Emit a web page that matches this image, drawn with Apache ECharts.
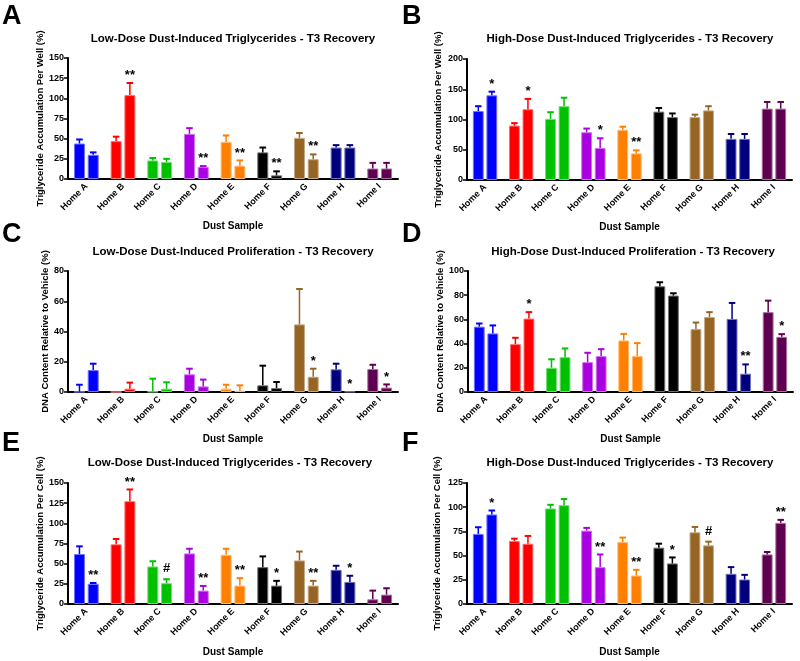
<!DOCTYPE html>
<html><head><meta charset="utf-8">
<script src="https://cdn.jsdelivr.net/npm/echarts@6/dist/echarts.min.js"></script>
<style>html,body{margin:0;padding:0;background:#fff}#c{width:800px;height:661px}</style>
</head><body><div id="c"></div>
<script>
const categories = ['Home A','Home B','Home C','Home D','Home E','Home F','Home G','Home H','Home I'];

// Panel A: Low-dose triglycerides per well
const aMean1 = [44, 47, 23, 56, 46, 33, 51, 39, 13];
const aErr1  = [5, 5.5, 3, 7, 8, 6, 6, 3, 7];
const aMean2 = [30, 104, 21, 15, 16.5, 4.5, 24.5, 39, 13];
const aErr2  = [3, 15, 4, 1, 6.5, 5, 6, 3, 7];
const aSig   = ['', '**', '', '**', '**', '**', '**', '', ''];
const aTicks = [0, 25, 50, 75, 100, 125, 150];

// Panel B: High-dose triglycerides per well
const bMean1 = [114, 90, 101, 79, 83, 113, 104, 68, 118];
const bErr1  = [8, 4, 11, 6, 5, 6, 4, 8, 11];
const bMean2 = [140, 117, 122, 53, 44, 104, 115, 68, 118];
const bErr2  = [6, 17, 14, 16, 5, 6, 7, 8, 11];
const bSig   = ['*', '*', '', '*', '**', '', '', '', ''];
const bTicks = [0, 50, 100, 150, 200];

// Panel C: Low-dose proliferation
const cMean1 = [0.2, 0, 0.3, 11.7, 2.2, 4.4, 44.7, 15, 15.2];
const cErr1  = [4.6, 0, 8.5, 3.7, 2.6, 13, 23.4, 3.7, 2.8];
const cMean2 = [14.5, 2.2, 2.2, 3.7, 0.9, 2.6, 10.1, 0.3, 2.9];
const cErr2  = [4.2, 4, 4.2, 4.5, 3.5, 4, 5.3, 0, 2.1];
const cSig   = ['', '', '', '', '', '', '*', '*', '*'];
const cTicks = [0, 20, 40, 60, 80];

// Panel D: High-dose proliferation
const dMean1 = [54, 39.6, 20, 24.7, 42.6, 87.4, 52, 60.4, 66];
const dErr1  = [2.6, 5.2, 7, 7.7, 5.4, 3.3, 5.4, 13.2, 9.5];
const dMean2 = [48.4, 60.7, 28.8, 29.7, 29.7, 79.7, 62, 15.1, 45.6];
const dErr2  = [6.6, 5.3, 7.2, 5.7, 10.7, 1.9, 4, 7.7, 2.2];
const dSig   = ['', '*', '', '', '', '', '', '**', '*'];
const dTicks = [0, 20, 40, 60, 80, 100];

// Panel E: Low-dose triglycerides per cell
const eMean1 = [62, 74, 46.5, 62.7, 61, 45.7, 54, 42.4, 5.8];
const eErr1  = [9.5, 6.6, 6.5, 5.8, 7.5, 13.3, 11, 5, 10.8];
const eMean2 = [25, 127.5, 25.8, 16.6, 22.8, 22.8, 22.8, 27.4, 11.6];
const eErr2  = [1, 14.5, 4.9, 5.8, 9.2, 5.9, 5.9, 7.6, 7.9];
const eSig   = ['**', '**', '#', '**', '**', '*', '**', '*', ''];
const eTicks = [0, 25, 50, 75, 100, 125, 150];

// Panel F: High-dose triglycerides per cell
const fMean1 = [72.4, 65.1, 98.7, 75.8, 64, 58.2, 74.1, 31.2, 51.2];
const fErr1  = [6.9, 2.4, 3.8, 2.8, 4.6, 4.1, 5.5, 6.9, 2.5];
const fMean2 = [92.5, 62.3, 102.1, 38.1, 29.4, 41.9, 60.6, 25.3, 83.8];
const fErr2  = [4.1, 8, 6.3, 13.1, 5.9, 6.2, 3.8, 4.8, 3.1];
const fSig   = ['*', '', '', '**', '**', '*', '#', '', '**'];
const fTicks = [0, 25, 50, 75, 100, 125];

const FONT = "'Liberation Sans', Arial, Helvetica, sans-serif";
const palette = ['#0000FF','#FF0000','#00C000','#A800E0','#FF8000','#000000','#966423','#00007F','#5E004F'];
const BAR_FRAC = 0.30, GAP_FRAC = 0.25;

const panels = [
  {letter:'A', title:'Low-Dose Dust-Induced Triglycerides - T3 Recovery', yName:'Triglyceride Accumulation Per Well (%)',
   ticks:aTicks, m1:aMean1, e1:aErr1, m2:aMean2, e2:aErr2, sig:aSig,
   grid:{left:68, top:58, width:330, height:121}, yGap:22, xGap:42, letterPos:[2,17], titlePos:[233,39]},
  {letter:'B', title:'High-Dose Dust-Induced Triglycerides - T3 Recovery', yName:'Triglyceride Accumulation Per Well (%)',
   ticks:bTicks, m1:bMean1, e1:bErr1, m2:bMean2, e2:bErr2, sig:bSig,
   grid:{left:467, top:59, width:325, height:121}, yGap:24, xGap:42, letterPos:[402,17], titlePos:[630,39]},
  {letter:'C', title:'Low-Dose Dust-Induced Proliferation - T3 Recovery', yName:'DNA Content Relative to Vehicle (%)',
   ticks:cTicks, m1:cMean1, e1:cErr1, m2:cMean2, e2:cErr2, sig:cSig,
   grid:{left:68, top:271, width:330, height:121}, yGap:18, xGap:42, letterPos:[2,235], titlePos:[233,252]},
  {letter:'D', title:'High-Dose Dust-Induced Proliferation - T3 Recovery', yName:'DNA Content Relative to Vehicle (%)',
   ticks:dTicks, m1:dMean1, e1:dErr1, m2:dMean2, e2:dErr2, sig:dSig,
   grid:{left:468, top:271, width:325, height:121}, yGap:21, xGap:42, letterPos:[402,235], titlePos:[633,252]},
  {letter:'E', title:'Low-Dose Dust-Induced Triglycerides - T3 Recovery', yName:'Triglyceride Accumulation Per Cell (%)',
   ticks:eTicks, m1:eMean1, e1:eErr1, m2:eMean2, e2:eErr2, sig:eSig,
   grid:{left:68, top:483, width:330, height:121}, yGap:23, xGap:43, letterPos:[2,444], titlePos:[230,463]},
  {letter:'F', title:'High-Dose Dust-Induced Triglycerides - T3 Recovery', yName:'Triglyceride Accumulation Per Cell (%)',
   ticks:fTicks, m1:fMean1, e1:fErr1, m2:fMean2, e2:fErr2, sig:fSig,
   grid:{left:467, top:483, width:325, height:121}, yGap:25, xGap:43, letterPos:[402,444], titlePos:[630,463]}
];

const grid = [], xAxis = [], yAxis = [], series = [], graphic = [];
const lift = echarts.color.lift;

function errRender(sign, sigArr) {
  return function (params, api) {
    const i = api.value(0), m = api.value(1), s = api.value(2);
    const band = api.size([1, 0])[0];
    const bw = band * BAR_FRAC, gap = bw * GAP_FRAC;
    const cx = api.coord([i, 0])[0] + sign * (bw + gap) / 2;
    const y0 = api.coord([i, m])[1];
    const y1 = api.coord([i, m + s])[1];
    const color = palette[i];
    const cap = bw * 0.3;
    const children = [];
    if (s > 0) {
      children.push({type:'line', shape:{x1:cx, y1:y0, x2:cx, y2:y1}, style:{stroke:color, lineWidth:1.5}});
      children.push({type:'line', shape:{x1:cx-cap, y1:y1, x2:cx+cap, y2:y1}, style:{stroke:color, lineWidth:2}});
    }
    const sig = sigArr ? sigArr[params.dataIndex] : '';
    if (sig) {
      children.push({type:'text', x:cx, y:(sig === '#' ? y1 - 4 : y1 - 1),
        style:{text:sig, fill:'#000', font:'bold 13px ' + FONT, align:'center', verticalAlign:'bottom'}});
    }
    return {type:'group', children};
  };
}

panels.forEach((p, k) => {
  grid.push(Object.assign({containLabel:false}, p.grid));
  xAxis.push({
    gridIndex:k, type:'category', data:categories,
    axisLine:{lineStyle:{color:'#000', width:2}},
    axisTick:{alignWithLabel:true, length:4, lineStyle:{color:'#000', width:1.5}},
    axisLabel:{rotate:45, interval:0, fontSize:9, fontWeight:'bold', color:'#000', fontFamily:FONT, margin:6},
    name:'Dust Sample', nameLocation:'middle', nameGap:p.xGap,
    nameTextStyle:{fontSize:10, fontWeight:'bold', color:'#000', fontFamily:FONT}
  });
  const t = p.ticks;
  yAxis.push({
    gridIndex:k, type:'value', min:t[0], max:t[t.length-1], interval:t[1]-t[0],
    axisLine:{show:true, lineStyle:{color:'#000', width:2}},
    axisTick:{show:true, length:4, lineStyle:{color:'#000', width:1.5}},
    splitLine:{show:false},
    axisLabel:{fontSize:9, fontWeight:'bold', color:'#000', fontFamily:FONT, margin:4},
    name:p.yName, nameLocation:'middle', nameGap:p.yGap,
    nameTextStyle:{fontSize:9.5, fontWeight:'bold', color:'#000', fontFamily:FONT}
  });
  [[p.m1, p.e1, -1, null], [p.m2, p.e2, 1, p.sig]].forEach(([m, e, sign, sig]) => {
    series.push({
      type:'bar', xAxisIndex:k, yAxisIndex:k, barWidth:(BAR_FRAC*100)+'%', barGap:(GAP_FRAC*100)+'%',
      silent:true,
      data:m.map((v, i) => ({value:v, itemStyle:{color:palette[i], borderColor:lift(palette[i], 0.45), borderWidth:1}}))
    });
    series.push({
      type:'custom', xAxisIndex:k, yAxisIndex:k, z:5, silent:true,
      renderItem:errRender(sign, sig),
      encode:{x:0, y:1},
      data:m.map((v, i) => [i, v, e[i]])
    });
  });
  graphic.push({type:'text', x:p.letterPos[0], y:p.letterPos[1],
    style:{text:p.letter, fill:'#000', font:'bold 27px ' + FONT, align:'left', verticalAlign:'middle'}});
  graphic.push({type:'text', x:p.titlePos[0], y:p.titlePos[1],
    style:{text:p.title, fill:'#000', font:'bold 11.5px ' + FONT, align:'center', verticalAlign:'middle'}});
});

const chart = echarts.init(document.getElementById('c'), null, {renderer:'canvas'});
chart.setOption({backgroundColor:'#fff', animation:false, grid, xAxis, yAxis, series, graphic});
</script>
</body></html>
